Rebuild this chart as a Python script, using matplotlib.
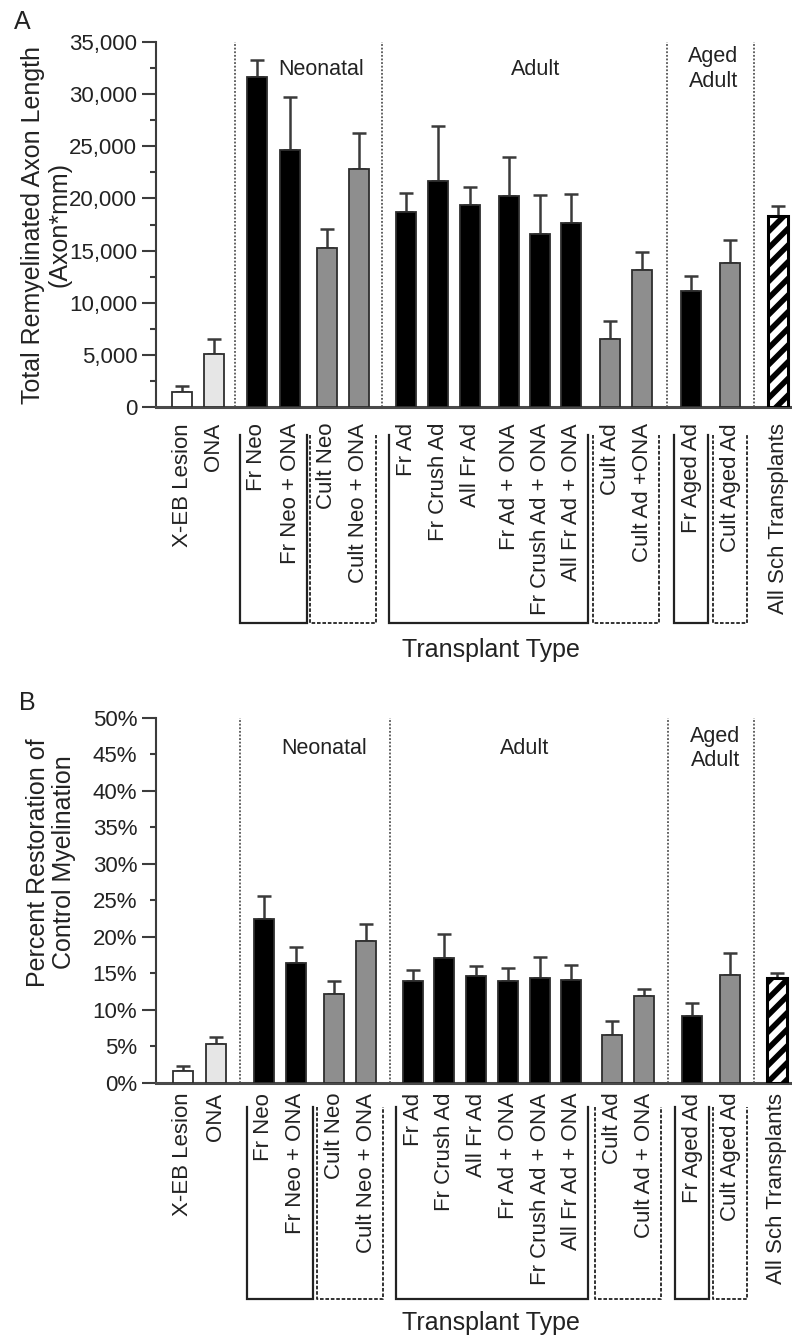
import matplotlib
matplotlib.use("Agg")
import matplotlib.pyplot as plt
import matplotlib.ticker as mticker
from matplotlib.transforms import blended_transform_factory
import numpy as np

plt.rcParams['font.family'] = ['Liberation Sans', 'DejaVu Sans']
plt.rcParams['hatch.linewidth'] = 4.0

# ---------------- data ----------------
labels_A = ["X-EB Lesion", "ONA", "Fr Neo", "Fr Neo + ONA", "Cult Neo", "Cult Neo + ONA",
            "Fr Ad", "Fr Crush Ad", "All Fr Ad", "Fr Ad + ONA", "Fr Crush Ad + ONA",
            "All Fr Ad + ONA", "Cult Ad", "Cult Ad +ONA", "Fr Aged Ad", "Cult Aged Ad",
            "All Sch Transplants"]
labels_B = ["X-EB Lesion", "ONA", "Fr Neo", "Fr Neo + ONA", "Cult Neo", "Cult Neo + ONA",
            "Fr Ad", "Fr Crush Ad", "All Fr Ad", "Fr Ad + ONA", "Fr Crush Ad + ONA",
            "All Fr Ad + ONA", "Cult Ad", "Cult Ad + ONA", "Fr Aged Ad", "Cult Aged Ad",
            "All Sch Transplants"]

length_mean = [1470, 5050, 31610, 24640, 15280, 22790, 18670, 21700, 19370, 20230,
               16560, 17610, 6490, 13140, 11150, 13780, 18320]
length_err = [540, 1470, 1660, 5120, 1820, 3510, 1880, 5250, 1760, 3710,
              3770, 2810, 1760, 1750, 1380, 2230, 950]

pct_mean = [1.6, 5.3, 22.4, 16.4, 12.2, 19.4, 13.9, 17.1, 14.6, 13.9,
            14.3, 14.1, 6.5, 11.9, 9.1, 14.8, 14.3]
pct_err = [0.7, 1.05, 3.2, 2.2, 1.8, 2.3, 1.5, 3.3, 1.4, 1.9,
           3.0, 2.1, 2.0, 0.9, 1.8, 3.0, 0.7]

bar_kind = ["white", "light", "black", "black", "gray", "gray",
            "black", "black", "black", "black", "black", "black",
            "gray", "gray", "black", "gray", "hatch"]

group_names = ["Neonatal", "Adult", "Aged\nAdult"]

# ---------------- layout ----------------
pos_A = [0, 1, 2.34, 3.38, 4.53, 5.53, 7.0, 8.0, 9.0, 10.22, 11.19, 12.16,
         13.38, 14.38, 15.91, 17.13, 18.63]
pos_B = [0.03, 1.06, 2.56, 3.56, 4.75, 5.75, 7.22, 8.19, 9.19, 10.19, 11.19, 12.16,
         13.44, 14.44, 15.94, 17.13, 18.59]
sep_after = [1, 5, 13, 15]             # separators between bar i and i+1
brackets = [(2, 3, '-'), (4, 5, '--'), (6, 11, '-'), (12, 13, '--'), (14, 14, '-'), (15, 15, '--')]
group_label_x_A = [4.34, 11.06, 16.6]
group_label_x_B = [4.44, 10.72, 16.66]

colors = {"white": "white", "light": "#e6e6e6", "black": "black", "gray": "#8e8e8e", "hatch": "white"}

W, H = 792, 1336
fig = plt.figure(figsize=(W / 100, H / 100), dpi=100)

def fx(px):
    return px / W

def fy(py):
    return 1 - py / H

TXT = '#222222'
SPINE = '#3c3c3c'
FS_TICK = 16
FS_GROUP = 15.5
FS_LABEL = 18


def make_panel(top_px, bot_px, pos, means, errs, labels, ylim, ylabel, ylabel_xy,
               glabel_x, glabel_y, bracket_y, xt_pad, major, minor, fmt, minor_labels):
    ax = fig.add_axes([fx(156), fy(bot_px), fx(792 - 156), (bot_px - top_px) / H])
    xmin = (156 - 182) / 32
    xmax = (792 - 182) / 32
    ax.set_xlim(xmin, xmax)
    ax.set_ylim(*ylim)
    for i, (x, m) in enumerate(zip(pos, means)):
        k = bar_kind[i]
        if k == "hatch":
            ax.bar(x, m, width=0.64, color="white", edgecolor="black", hatch="//",
                   linewidth=2.2, zorder=3)
        else:
            ax.bar(x, m, width=0.64, color=colors[k], edgecolor="#2e2e2e",
                   linewidth=1.3, zorder=3)
    ax.errorbar(pos, means, yerr=[np.zeros(len(errs)), errs], fmt='none',
                ecolor='#3a3a3a', elinewidth=1.8, capsize=5.2, capthick=1.8, zorder=2)
    # separators
    for i in sep_after:
        xs = (pos[i] + pos[i + 1]) / 2
        ax.axvline(xs, color='#555555', lw=1.3, ls=(0, (1, 1)), zorder=1)
    # group labels
    for name, gx in zip(group_names, glabel_x):
        ax.text(gx, glabel_y, name, ha='center', va='center', fontsize=FS_GROUP,
                color=TXT, transform=blended_transform_factory(ax.transData, ax.transAxes),
                linespacing=1.2)
    # spines
    ax.spines['top'].set_visible(False)
    ax.spines['right'].set_visible(False)
    ax.spines['left'].set_color(SPINE)
    ax.spines['left'].set_linewidth(1.5)
    ax.spines['bottom'].set_color('#4a4a4a')
    ax.spines['bottom'].set_linewidth(2.2)
    # y ticks
    ax.yaxis.set_major_locator(mticker.MultipleLocator(major))
    ax.yaxis.set_minor_locator(mticker.MultipleLocator(minor))
    ax.yaxis.set_major_formatter(mticker.FuncFormatter(fmt))
    if minor_labels:
        ax.yaxis.set_minor_formatter(mticker.FuncFormatter(
            lambda v, p: fmt(v, p) if abs((v / major) - round(v / major)) > 1e-6 else ""))
    ax.tick_params(axis='y', which='major', length=10, width=1.5, color=SPINE,
                   labelsize=FS_TICK, labelcolor=TXT, pad=3.5)
    ax.tick_params(axis='y', which='minor', length=4.5, width=1.5, color=SPINE,
                   labelsize=FS_TICK, labelcolor=TXT, pad=3.5 + 5.5)
    # x ticks
    ax.set_xticks(pos)
    ax.set_xticklabels(labels, rotation=90, fontsize=FS_TICK, color=TXT)
    ax.tick_params(axis='x', length=0, pad=xt_pad)
    # y label
    ax.set_ylabel(ylabel, fontsize=FS_LABEL, color=TXT, linespacing=1.12)
    ax.yaxis.set_label_coords(*ylabel_xy)
    # brackets
    tr = blended_transform_factory(ax.transData, ax.transAxes)
    ytop, ybot = bracket_y
    for a, b, ls in brackets:
        x0 = pos[a] - 0.54
        x1 = pos[b] + 0.54
        if ls == '-':
            ax.plot([x0, x0, x1, x1], [ytop, ybot, ybot, ytop], color='#222222', lw=1.6,
                    transform=tr, clip_on=False, solid_joinstyle='miter')
        else:
            ax.plot([x0, x0, x1, x1], [ytop, ybot, ybot, ytop], color='#222222', lw=1.3,
                    ls=(0, (2, 1)), transform=tr, clip_on=False)
    return ax


axA = make_panel(42, 407, pos_A, length_mean, length_err, labels_A, (0, 35000),
                 "Total Remyelinated Axon Length\n(Axon*mm)", (-0.133, 0.5),
                 group_label_x_A, 0.926, (-0.077, -0.592), 11.5,
                 5000, 2500, lambda v, p: f"{int(round(v)):,}", False)

axB = make_panel(717.5, 1083, pos_B, pct_mean, pct_err, labels_B, (0, 50),
                 "Percent Restoration of\nControl Myelination", (-0.125, 0.603),
                 group_label_x_B, 0.915, (-0.066, -0.591), 7,
                 10, 5, lambda v, p: f"{int(round(v))}%", True)

fig.text(fx(491), fy(650), "Transplant Type", ha='center', va='center', fontsize=FS_LABEL, color=TXT)
fig.text(fx(491), fy(1323), "Transplant Type", ha='center', va='center', fontsize=FS_LABEL, color=TXT)
fig.text(fx(22), fy(22), "A", ha='center', va='center', fontsize=18, color=TXT)
fig.text(fx(27), fy(703), "B", ha='center', va='center', fontsize=18, color=TXT)

fig.savefig("out.png", dpi=100)
